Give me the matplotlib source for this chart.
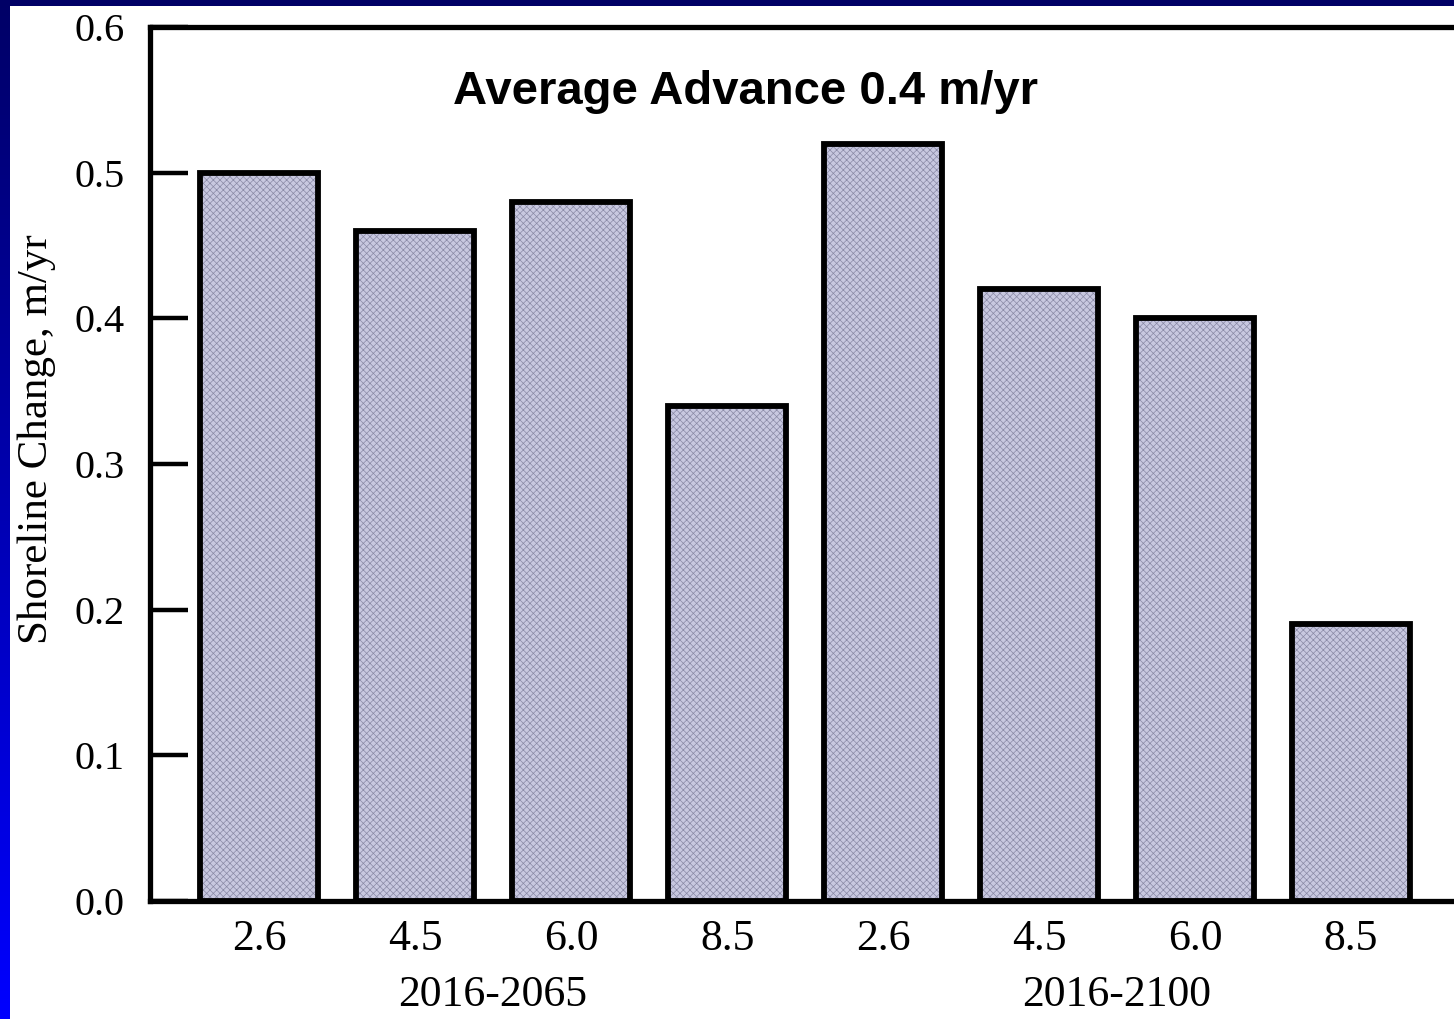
import numpy as np
import matplotlib
matplotlib.use("Agg")
import matplotlib.pyplot as plt
from matplotlib.patches import Rectangle

scenarios = ["2.6", "4.5", "6.0", "8.5", "2.6", "4.5", "6.0", "8.5"]
values = [0.50, 0.46, 0.48, 0.34, 0.52, 0.42, 0.40, 0.19]
periods = ["2016-2065", "2016-2100"]
yticks = [0.0, 0.1, 0.2, 0.3, 0.4, 0.5, 0.6]
title = "Average Advance 0.4 m/yr"
ylabel = "Shoreline Change, m/yr"

W, H = 1454, 1019
fig = plt.figure(figsize=(W / 100, H / 100), dpi=100)

# background gradient frame
bg = fig.add_axes([0, 0, 1, 1], zorder=-10)
grad = np.linspace(0, 1, 256).reshape(-1, 1)
top = np.array([0.0, 0.0, 0.40])
bot = np.array([0.0, 0.0, 1.0])
img = top[None, None, :] * (1 - grad[:, :, None]) + bot[None, None, :] * grad[:, :, None]
bg.imshow(img, aspect="auto", extent=[0, 1, 0, 1], origin="upper")
bg.add_patch(Rectangle((10 / W, 0), 1, 1 - 6 / H, facecolor="white", edgecolor="none"))
bg.set_xlim(0, 1)
bg.set_ylim(0, 1)
bg.axis("off")

serif = ["Liberation Serif", "DejaVu Serif"]

left = 150 / W
right = 1.0
bottom = 1 - 901 / H
topy = 1 - 27 / H
ax = fig.add_axes([left, bottom, right - left, topy - bottom])
ax.patch.set_alpha(0)

x = np.arange(len(values))
plt.rcParams["hatch.linewidth"] = 0.5
ax.bar(x, values, width=0.76, facecolor="#c8c8e0", edgecolor="#8a8aa6",
       hatch="xxxxx", linewidth=0, zorder=2)
ax.bar(x, values, width=0.76, facecolor="none", edgecolor="black",
       linewidth=4.2, zorder=3)

ax.set_xlim(-0.70, 7.66)
ax.set_ylim(0, 0.6)
ax.set_yticks(yticks)
ax.set_yticklabels([f"{v:.1f}" for v in yticks], fontfamily=serif, fontsize=29)
ax.set_xticks(x)
ax.set_xticklabels(scenarios, fontfamily=serif, fontsize=31.5)
ax.tick_params(axis="y", direction="in", length=27, width=3.2, pad=18)
ax.tick_params(axis="x", length=0, pad=13)

for s in ["left", "bottom", "top"]:
    ax.spines[s].set_linewidth(3.8)
ax.spines["right"].set_visible(False)

ax.set_ylabel(ylabel, fontfamily=serif, fontsize=31, va="center")
ax.yaxis.set_label_coords((37 - 150) / (W - 150), (901 - 439) / 874)

for i, p in enumerate(periods):
    cx = 4 * i + 1.5
    ax.text(cx, -0.0645, p, transform=ax.transData,
            ha="center", va="center", fontfamily=serif, fontsize=31.5, clip_on=False)

ax.text(0.5 * (451 + 1040) / W, 1 - 92 / H, title, transform=fig.transFigure,
        ha="center", va="center", fontfamily=["Liberation Sans", "DejaVu Sans"],
        fontweight="bold", fontsize=34)

fig.savefig("out.png", dpi=100, facecolor="white")
